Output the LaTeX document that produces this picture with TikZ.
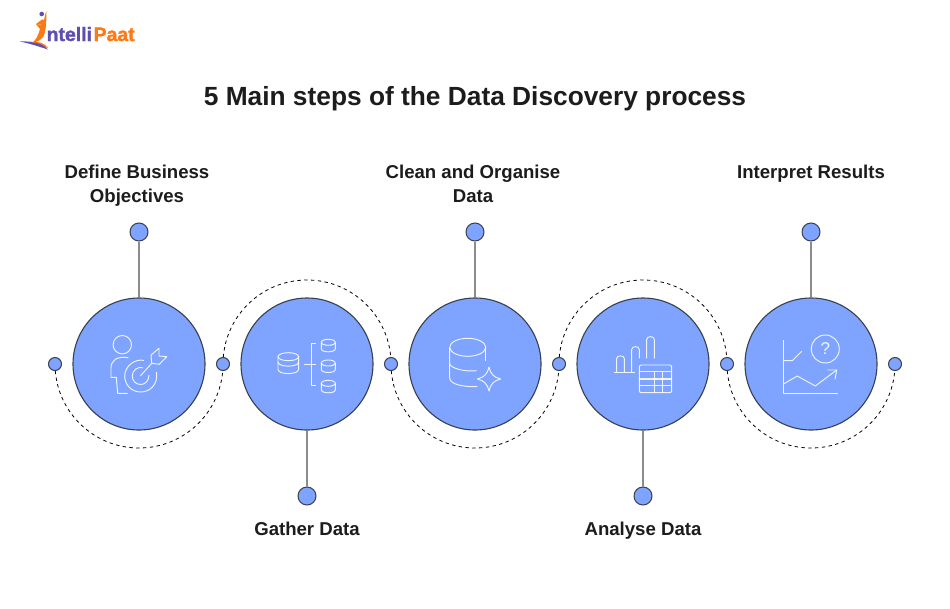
\documentclass[tikz,border=0pt]{standalone}
\usepackage{fontspec}
\setmainfont{Liberation Sans}
\newfontfamily\logofont[FakeBold=1.6]{Liberation Sans Bold}
\definecolor{blueF}{HTML}{7FA4FF}
\definecolor{ringD}{HTML}{3A3F4D}
\definecolor{stemG}{HTML}{8C8C8C}
\definecolor{txt}{HTML}{1C1C1C}
\definecolor{lpurple}{HTML}{5D4FB0}
\definecolor{lorange}{HTML}{FA7A18}
\tikzset{
  bigc/.style={circle,draw=ringD,line width=1.1pt,fill=blueF,minimum size=132pt,inner sep=0},
  dotS/.style={circle,draw=ringD,line width=1pt,fill=blueF,minimum size=13pt,inner sep=0},
  dotL/.style={circle,draw=ringD,line width=1pt,fill=blueF,minimum size=18pt,inner sep=0},
  stemL/.style={draw=stemG,line width=1.8pt},
  arcL/.style={draw=black,line width=0.8pt,dash pattern=on 3.4pt off 3.4pt},
  ico/.style={draw=white,line width=0.95pt,opacity=.88,line join=round},
  lab/.style={font=\fontsize{18.6}{24}\selectfont\bfseries,text=txt,align=center,inner sep=0},
}
\begin{document}
\begin{tikzpicture}[x=1pt,y=-1pt]
\useasboundingbox (0,0) rectangle (950,608);
\fill[white] (0,0) rectangle (950,608);
% logo
\fill[lorange] (31,42) .. controls (38,41) and (45,43) .. (48,48) .. controls (42,46) and (36,44) .. (31,42) -- cycle;
\fill[lpurple] (20,41.5) .. controls (30,41) and (42,42.5) .. (48,49.5) .. controls (40,47) and (30,43.5) .. (20,41.5) -- cycle;
\fill[lorange] (32,43) .. controls (36,40) and (38,36) .. (40,29) -- (36,24) -- (43,25) .. controls (44,20) and (45,15) .. (46.3,11) .. controls (46.5,20) and (46.3,32) .. (43,37) .. controls (41,40) and (37,42) .. (32,43) -- cycle;
\fill[lorange] (36,24) -- (42,19.5) -- (46,19.5) -- (43,25) -- cycle;
\fill[lpurple] (41.7,14) circle (2.3pt);
\node[inner sep=0,anchor=base west,font=\logofont\fontsize{19.4}{19}\selectfont,text=lpurple] (lg1) at (46.5,41) {ntelli};
\node[inner sep=0,anchor=base west,font=\logofont\fontsize{19.4}{19}\selectfont,text=lorange] (lg2) at (93.5,41) {Paat};
% title
\node[inner sep=0,font=\fontsize{26.3}{30}\selectfont\bfseries,text=txt] (title) at (475,98.5) {5 Main steps of the Data Discovery process};
% arcs
\foreach \n/\x in {d1/55,d2/223,d3/391,d4/559,d5/727,d6/895}{\coordinate (\n) at (\x,364);}
\draw[arcL] (d1) arc[start angle=180,end angle=360,radius=84pt];
\draw[arcL] (d2) arc[start angle=180,end angle=0,radius=84pt];
\draw[arcL] (d3) arc[start angle=180,end angle=360,radius=84pt];
\draw[arcL] (d4) arc[start angle=180,end angle=0,radius=84pt];
\draw[arcL] (d5) arc[start angle=180,end angle=360,radius=84pt];
% big circles
\foreach \n/\x in {c1/139,c2/307,c3/475,c4/643,c5/811}{\node[bigc] (\n) at (\x,364) {};}
% small dots
\foreach \n/\x in {e1/55,e2/223,e3/391,e4/559,e5/727,e6/895}{\node[dotS] (\n) at (\x,364) {};}
% stems
\foreach \n/\x/\y/\c in {t1/139/232/c1,t3/475/232/c3,t5/811/232/c5,t2/307/496/c2,t4/643/496/c4}{
  \node[dotL] (\n) at (\x,\y) {};
  \draw[stemL] (\n) -- (\c);
}
% labels
\node[lab] (l1) at (137,186) {Define Business\\Objectives};
\node[lab] (l3) at (473,184) {Clean and Organise\\Data};
\node[lab,anchor=base] (l5) at (811,178.5) {Interpret Results};
\node[lab,anchor=base] (l2) at (307,535.5) {Gather Data};
\node[lab,anchor=base] (l4) at (643,535.5) {Analyse Data};
% icon 1
\draw[ico] (122.3,344.7) circle (9.2pt);
\draw[ico] (128.3,357.7) .. controls (117,356) and (111,360) .. (111,368.3) -- (111,377.3) -- (116.3,377.3) -- (117.7,393.3) -- (127.7,393.3);
\draw[ico] (144,360.4) .. controls (135,358.5) and (124.7,366) .. (124.7,376) .. controls (124.7,385) and (131.7,392) .. (140.7,392) .. controls (149.7,392) and (156.7,385) .. (156.7,376) -- (156.7,372);
\draw[ico] (143,367.8) .. controls (137.5,366) and (132.3,370.5) .. (132.3,376) .. controls (132.3,381) and (136,384.5) .. (140.7,384.5) .. controls (145,384.5) and (149,381) .. (149,375);
\draw[ico] (140.3,376) -- (151.5,363.6);
\draw[ico] (151,355) -- (159,348.3) -- (159,356) -- (166.7,356.7) -- (159.3,364.3) -- (151.7,363.3) -- cycle;
% icon 2
\draw[ico] (288.3,356.7) ellipse[x radius=10.3pt,y radius=4pt];
\draw[ico] (278,356.7) -- (278,369.3) .. controls (278,375) and (298.6,375) .. (298.6,369.3) -- (298.6,356.7);
\draw[ico] (278,362) .. controls (278,367.5) and (298.6,367.5) .. (298.6,362);
\draw[ico] (316,343.3) -- (311,343.3) -- (311,385) -- (316,385);
\draw[ico] (304.3,364.3) -- (316,364.3);
\foreach \a in {339.3,360,380.3}{
  \draw[ico] (328.3,\a+3) ellipse[x radius=7pt,y radius=3pt];
  \draw[ico] (321.3,\a+3) -- (321.3,\a+9.5) .. controls (321.3,\a+13.5) and (335.3,\a+13.5) .. (335.3,\a+9.5) -- (335.3,\a+3);
}
% icon 3
\draw[ico] (467.7,347.3) ellipse[x radius=18pt,y radius=9pt];
\draw[ico] (449.7,347.3) -- (449.7,378) .. controls (449.7,384) and (462,387) .. (477.3,386.7);
\draw[ico] (485.7,347.3) -- (485.7,361);
\draw[ico] (449.7,364) .. controls (451,368) and (463,372) .. (476.7,370.7);
\draw[ico] (489,367) .. controls (490.5,374) and (494,377.5) .. (500.7,379) .. controls (494,380.5) and (490.5,384) .. (489,391) .. controls (487.5,384) and (484,380.5) .. (477.3,379) .. controls (484,377.5) and (487.5,374) .. (489,367) -- cycle;
% icon 4
\draw[ico] (614,372.3) -- (635,372.3);
\draw[ico] (616.7,372.3) -- (616.7,358.5) .. controls (616.7,355) and (624.3,355) .. (624.3,358.5) -- (624.3,372.3);
\draw[ico] (631.7,372.3) -- (631.7,349.5) .. controls (631.7,345.7) and (639.3,345.7) .. (639.3,349.5) -- (639.3,358.3);
\draw[ico] (646.7,358.3) -- (646.7,339.5) .. controls (646.7,335.7) and (654.3,335.7) .. (654.3,339.5) -- (654.3,358.3);
\draw[ico,rounded corners=2pt] (639.3,365) rectangle (671.7,392.7);
\draw[ico,line width=1.4pt] (639.3,371.7) -- (671.7,371.7);
\draw[ico,line width=1.4pt] (639.3,379) -- (671.7,379);
\draw[ico] (639.3,385.7) -- (671.7,385.7);
\draw[ico] (654,371.7) -- (654,392.7);
\draw[ico] (662.7,371.7) -- (662.7,392.7);
% icon 5
\draw[ico] (783,340) -- (783,393.3) -- (838.3,393.3);
\draw[ico] (783,360.7) -- (792.3,360.7) -- (801.7,351.3);
\node[circle,ico,minimum size=28pt,inner sep=0,font=\fontsize{17}{17}\selectfont,text=white,text opacity=.9] (qm) at (825.3,349) {?};
\draw[ico] (783,384.3) -- (797.3,376) -- (815.3,386) -- (836.7,370);
\draw[ico] (827.7,370) -- (836.7,370) -- (835,379.3);
\end{tikzpicture}
\end{document}
